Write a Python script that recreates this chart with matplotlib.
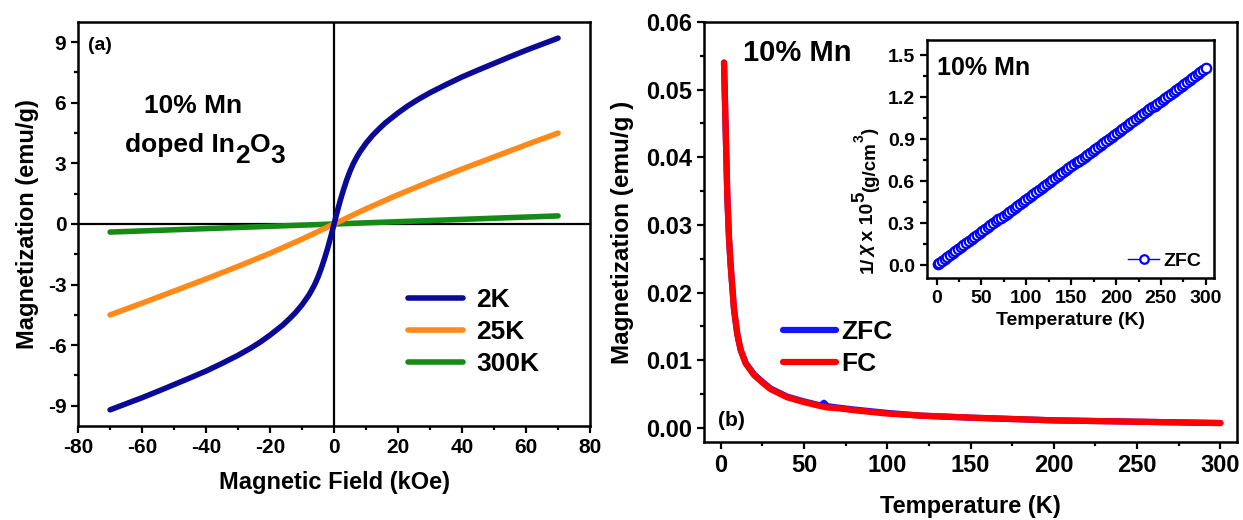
import matplotlib
matplotlib.use("Agg")
import matplotlib.pyplot as plt
import numpy as np
from matplotlib.ticker import MultipleLocator, FormatStrFormatter

plt.rcParams['font.family'] = ['Liberation Sans', 'DejaVu Sans']
plt.rcParams['font.weight'] = 'bold'
plt.rcParams['axes.labelweight'] = 'bold'
plt.rcParams['axes.unicode_minus'] = False

# ---------------- data: panel (a) M-H (positive branch; curves are odd in H) ----------------
H_pos_2K = [0, 1, 2, 3, 4, 5, 6, 7, 8, 10, 12, 14, 16, 18, 20, 23, 26, 30, 35, 40, 45, 50, 55, 60, 65, 70]
M_pos_2K = [0, 0.62, 1.2, 1.72, 2.2, 2.62, 2.98, 3.28, 3.55, 4.0, 4.38, 4.7, 5.0, 5.25, 5.5, 5.84,
            6.14, 6.5, 6.9, 7.28, 7.62, 7.95, 8.28, 8.6, 8.9, 9.2]
H_pos_25K = [0, 10, 20, 30, 40, 50, 60, 70]
M_pos_25K = [0, 0.75, 1.45, 2.1, 2.72, 3.32, 3.92, 4.5]
H_pos_300K = [0, 70]
M_pos_300K = [0, 0.4]

def mirror(h, m):
    h = np.asarray(h, float); m = np.asarray(m, float)
    return np.concatenate([-h[::-1], h[1:]]), np.concatenate([-m[::-1], m[1:]])

# ---------------- data: panel (b) M-T ----------------
T_b = [2, 3, 4, 5, 6, 8, 10, 12, 15, 20, 25, 30, 40, 50, 60, 62, 64, 70, 80, 100, 120, 150, 200, 250, 300]
M_FC = [0.054, 0.044, 0.034, 0.028, 0.024, 0.0175, 0.0138, 0.0115, 0.0095, 0.0078, 0.0067, 0.0057,
        0.0045, 0.0038, 0.0032, 0.0031, 0.0030, 0.0029, 0.0026, 0.0021, 0.0018, 0.0015, 0.0011, 0.0009, 0.0007]
M_ZFC = [0.054, 0.044, 0.034, 0.028, 0.024, 0.0175, 0.0138, 0.0115, 0.0096, 0.0079, 0.0068, 0.0058,
         0.0046, 0.0039, 0.0033, 0.0037, 0.0032, 0.0030, 0.0027, 0.0022, 0.0018, 0.0015, 0.0011, 0.0009, 0.0007]

# ---------------- data: inset 1/chi (x 1e5) vs T ----------------
T_inv = [2, 3, 6, 9, 12, 15, 18, 21, 24, 27, 30, 33, 36, 39, 42, 45, 48, 51, 54, 57, 60, 63, 66, 69,
         72, 75, 78, 81, 84, 87, 90, 93, 96, 99, 102, 105, 108, 111, 114, 117, 120, 123, 126, 129,
         132, 135, 138, 141, 144, 147, 150, 153, 156, 159, 162, 165, 168, 171, 174, 177, 180, 183,
         186, 189, 192, 195, 198, 201, 204, 207, 210, 213, 216, 219, 222, 225, 228, 231, 234, 237,
         240, 243, 246, 249, 252, 255, 258, 261, 264, 267, 270, 273, 276, 279, 282, 285, 288, 291,
         294, 297, 300]
inv_chi = [0.012, 0.019, 0.033, 0.047, 0.061, 0.075, 0.089, 0.103, 0.117, 0.131, 0.145, 0.159,
           0.173, 0.188, 0.202, 0.216, 0.230, 0.244, 0.258, 0.272, 0.286, 0.300, 0.314, 0.328,
           0.342, 0.356, 0.370, 0.384, 0.398, 0.412, 0.426, 0.440, 0.454, 0.468, 0.482, 0.496,
           0.510, 0.524, 0.539, 0.553, 0.567, 0.581, 0.595, 0.609, 0.623, 0.637, 0.651, 0.665,
           0.679, 0.693, 0.707, 0.721, 0.735, 0.749, 0.763, 0.777, 0.791, 0.805, 0.819, 0.833,
           0.847, 0.861, 0.875, 0.890, 0.904, 0.918, 0.932, 0.946, 0.960, 0.974, 0.988, 1.002,
           1.016, 1.030, 1.044, 1.058, 1.072, 1.086, 1.100, 1.114, 1.128, 1.142, 1.156, 1.170,
           1.184, 1.198, 1.212, 1.226, 1.241, 1.255, 1.269, 1.283, 1.297, 1.311, 1.325, 1.339,
           1.353, 1.367, 1.381, 1.395, 1.409]

C_2K = '#0a0a96'
C_25K = '#ff8a1a'
C_300K = '#168a16'

W, H = 1243, 520
fig = plt.figure(figsize=(W / 100, H / 100), dpi=100)
axL = fig.add_axes([0.0628, 0.1808, 0.4119, 0.7769])
axR = fig.add_axes([0.5664, 0.15, 0.4288, 0.8077])
axI = fig.add_axes([0.7455, 0.4654, 0.2311, 0.4577])

def style(ax, lw=1.8):
    for s in ax.spines.values():
        s.set_linewidth(lw)
    ax.tick_params(which='both', direction='out', top=False, right=False, width=1.6)
    ax.tick_params(which='major', length=5)
    ax.tick_params(which='minor', length=3)

# ---- panel (a)
axL.axhline(0, color='black', lw=1.6, zorder=1)
axL.axvline(0, color='black', lw=1.6, zorder=1)
h, m = mirror(H_pos_300K, M_pos_300K)
l3, = axL.plot(h, m, color=C_300K, lw=4, solid_capstyle='round', label='300K', zorder=2)
h, m = mirror(H_pos_25K, M_pos_25K)
l2, = axL.plot(h, m, color=C_25K, lw=4, solid_capstyle='round', label='25K', zorder=3)
h, m = mirror(H_pos_2K, M_pos_2K)
l1, = axL.plot(h, m, color=C_2K, lw=4, solid_capstyle='round', label='2K', zorder=4)
axL.set_xlim(-80, 80)
axL.set_ylim(-10, 10)
axL.xaxis.set_major_locator(MultipleLocator(20))
axL.xaxis.set_minor_locator(MultipleLocator(10))
axL.yaxis.set_major_locator(MultipleLocator(3))
axL.yaxis.set_minor_locator(MultipleLocator(1.5))
style(axL)
axL.tick_params(labelsize=15)
axL.set_xlabel('Magnetic Field (kOe)', fontsize=17, labelpad=10)
axL.set_ylabel('Magnetization (emu/g)', fontsize=17, labelpad=6)
axL.text(0.02, 0.963, '(a)', transform=axL.transAxes, fontsize=14, va='top', ha='left')
axL.text(0.2246, 0.792, '10% Mn', transform=axL.transAxes, fontsize=19, va='center', ha='center')
axL.legend(handles=[l1, l2, l3], loc='center left', bbox_to_anchor=(0.644, 0.233),
           frameon=False, fontsize=19, handlelength=2.1, handletextpad=0.5,
           labelspacing=0.3, borderpad=0, borderaxespad=0)

# ---- panel (b)
lz, = axR.plot(T_b, M_ZFC, color='#1414ff', lw=4.5, label='ZFC', zorder=2, solid_capstyle='round')
lf, = axR.plot(T_b, M_FC, color='#ff0000', lw=4.5, label='FC', zorder=3, solid_capstyle='round')
axR.set_xlim(-10, 310)
axR.set_ylim(-0.0021, 0.06)
axR.xaxis.set_major_locator(MultipleLocator(50))
axR.xaxis.set_minor_locator(MultipleLocator(25))
axR.yaxis.set_major_locator(MultipleLocator(0.01))
axR.yaxis.set_minor_locator(MultipleLocator(0.005))
axR.yaxis.set_major_formatter(FormatStrFormatter('%.2f'))
style(axR)
axR.tick_params(labelsize=17)
axR.set_xlabel('Temperature (K)', fontsize=17, labelpad=13)
axR.set_ylabel('Magnetization (emu/g )', fontsize=17.5, labelpad=9)
axR.text(0.073, 0.926, '10% Mn', transform=axR.transAxes, fontsize=21, va='center', ha='left')
axR.text(0.026, 0.05, '(b)', transform=axR.transAxes, fontsize=15, va='center', ha='left')
axR.legend(handles=[lz, lf], loc='center left', bbox_to_anchor=(0.148, 0.224),
           frameon=False, fontsize=19, handlelength=2.0, handletextpad=0.2,
           labelspacing=0.3, borderpad=0, borderaxespad=0)

# ---- inset
li, = axI.plot(T_inv, inv_chi, color='#0000ff', lw=1.0, marker='o', ms=6.8, mfc='white',
               mec='#0000ff', mew=1.6, label='ZFC')
axI.set_xlim(-11, 309)
axI.set_ylim(-0.09, 1.61)
axI.xaxis.set_major_locator(MultipleLocator(50))
axI.xaxis.set_minor_locator(MultipleLocator(25))
axI.yaxis.set_major_locator(MultipleLocator(0.3))
axI.yaxis.set_minor_locator(MultipleLocator(0.15))
axI.yaxis.set_major_formatter(FormatStrFormatter('%.1f'))
style(axI)
axI.tick_params(labelsize=14)
axI.set_xlabel('Temperature (K)', fontsize=14, labelpad=4)
axI.text(0.035, 0.882, '10% Mn', transform=axI.transAxes, fontsize=18, va='center', ha='left')
axI.legend(handles=[li], loc='center right', bbox_to_anchor=(0.955, 0.07), frameon=False,
           fontsize=14, handlelength=1.6, handletextpad=0.2, borderpad=0, borderaxespad=0,
           numpoints=1, markerscale=0.9)

# ---- composed texts with full-size, shifted sub/superscripts
renderer = fig.canvas.get_renderer()

def compose(pieces, x0, y0, rotation=0):
    """pieces: (text, fontsize, shift_px, style). Positions in pixels from bottom-left."""
    pos = x0 if rotation == 0 else y0
    for s, fs, shift, st in pieces:
        if rotation == 0:
            x, y = pos, y0 + shift
        else:
            x, y = x0 - shift, pos
        t = fig.text(x / W, y / H, s, fontsize=fs, rotation=rotation, ha='left', va='baseline',
                     rotation_mode='anchor', style=st, fontweight='bold')
        ext = t.get_window_extent(renderer)
        pos += ext.width if rotation == 0 else ext.height

compose([('doped In', 19, 0, 'normal'), ('2', 19, -11, 'normal'),
         ('O', 19, 0, 'normal'), ('3', 19, -11, 'normal')], 125, H - 151.7)

compose([('1/', 14, 0, 'normal'), ('χ', 14, 0, 'italic'), (' x 10', 14, 0, 'normal'),
         ('5', 13.5, 9, 'normal'), ('(g/cm', 13.5, -2, 'normal'), ('3', 10, 9, 'normal'),
         (')', 13.5, -2, 'normal')], 873, H - 273, rotation=90)

fig.savefig('out.png', dpi=100)
